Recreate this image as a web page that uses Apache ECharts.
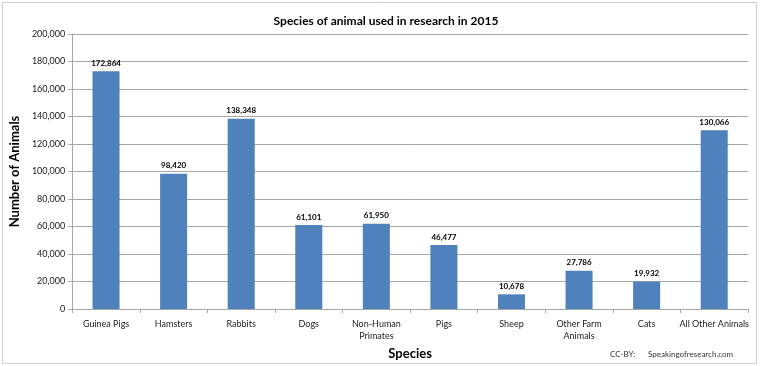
<!DOCTYPE html>
<html><head><meta charset="utf-8">
<script src="https://cdn.jsdelivr.net/npm/echarts@6/dist/echarts.min.js"></script>
<style>html,body{margin:0;padding:0;background:#fff}#c{width:760px;height:366px}</style>
</head><body><div id="c"></div>
<script>
const categories = ['Guinea Pigs','Hamsters','Rabbits','Dogs','Non-Human\nPrimates','Pigs','Sheep','Other Farm\nAnimals','Cats','All Other Animals'];
const values = [172864, 98420, 138348, 61101, 61950, 46477, 10678, 27786, 19932, 130066];
const titleText = 'Species of animal used in research in 2015';
const yName = 'Number of Animals';
const xName = 'Species';
const credit1 = 'CC-BY:';
const credit2 = 'Speakingofresearch.com';

const FONT = 'Lato, "Open Sans", sans-serif';
const chart = echarts.init(document.getElementById('c'));
chart.setOption({
  animation: false,
  backgroundColor: '#fff',
  title: { text: titleText, left: 381, top: 10, textAlign: 'center',
    textStyle: { fontFamily: FONT, fontSize: 12, fontWeight: 'bold', color: '#000' } },
  graphic: [
    { type: 'rect', shape: { x: 2.5, y: 2.5, width: 754, height: 361 }, style: { fill: 'none', stroke: '#d0d0d0', lineWidth: 1 } },
    { type: 'text', left: 610, top: 350, style: { text: credit1, font: '8px ' + FONT, fill: '#333' } },
    { type: 'text', left: 648, top: 350, style: { text: credit2, font: '8px ' + FONT, fill: '#333' } }
  ],
  grid: { left: 67, right: 12, top: 34, bottom: 57, containLabel: false },
  xAxis: {
    type: 'category', data: categories,
    name: xName, nameLocation: 'middle', nameGap: 31,
    nameTextStyle: { fontFamily: FONT, fontSize: 13, fontWeight: 'bold', color: '#000' },
    axisLine: { lineStyle: { color: '#a6a6a6' } },
    axisTick: { show: true, length: 4, lineStyle: { color: '#a6a6a6' } },
    axisLabel: { fontFamily: FONT, fontSize: 9, color: '#222', margin: 9, interval: 0, lineHeight: 12 }
  },
  yAxis: {
    type: 'value', min: 0, max: 200000, interval: 20000,
    name: yName, nameLocation: 'middle', nameGap: 42, nameRotate: 90,
    nameTextStyle: { fontFamily: FONT, fontSize: 13, fontWeight: 'bold', color: '#000' },
    axisLine: { show: true, lineStyle: { color: '#a6a6a6' } },
    axisTick: { show: true, length: 4, inside: false, lineStyle: { color: '#a6a6a6' } },
    axisLabel: { fontFamily: FONT, fontSize: 9, color: '#222', margin: 7,
      formatter: v => v.toLocaleString('en-US') },
    splitLine: { lineStyle: { color: '#a6a6a6', width: 1 } }
  },
  series: [{
    type: 'bar', data: values, barWidth: '40%',
    itemStyle: { color: '#4f81bd' },
    label: { show: true, position: 'top', distance: 4, fontFamily: FONT, fontSize: 8, fontWeight: 'bold', color: '#000',
      formatter: p => p.value.toLocaleString('en-US') }
  }]
});
</script></body></html>
